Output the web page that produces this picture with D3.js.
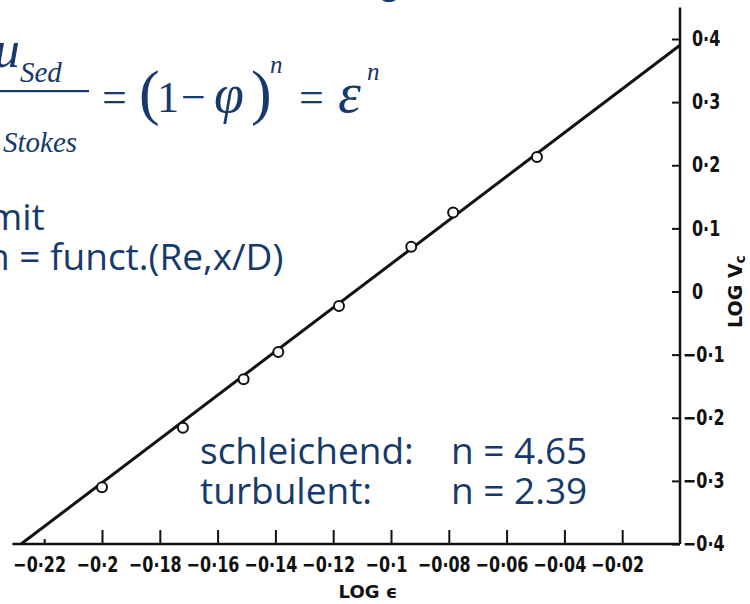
<!DOCTYPE html>
<html>
<head>
<meta charset="utf-8">
<script src="https://cdn.jsdelivr.net/npm/d3@7"></script>
<style>
  body { margin: 0; background: #fff; }
  svg { display: block; }
  .scan { font-family: "DejaVu Sans", sans-serif; font-weight: bold; fill: #111; }
  .blue { font-family: "Open Sans", "Noto Sans", sans-serif; fill: #163a6b; }
  .math { font-family: "Liberation Serif", "DejaVu Serif", serif; fill: #163a6b; }
</style>
</head>
<body>
<div id="chart"></div>
<script>
// Richardson-Zaki plot: log Vc against log eps
const WIDTH = 750;
const HEIGHT = 604;
const BLUE = "#163a6b";
const SQUEEZE = 0.76; // scanned tick labels are narrow

// axis ticks and labels (as printed, middle dot decimals)
const xTicks = [-0.22, -0.2, -0.18, -0.16, -0.14, -0.12, -0.1, -0.08, -0.06, -0.04, -0.02];
const xTickLabels = ["−0·22", "−0·2", "−0·18", "−0·16", "−0·14", "−0·12", "−0·1", "−0·08", "−0·06", "−0·04", "−0·02"];
const yTicks = [0.4, 0.3, 0.2, 0.1, 0, -0.1, -0.2, -0.3, -0.4];
const yTickLabels = ["0·4", "0·3", "0·2", "0·1", "0", "−0·1", "−0·2", "−0·3", "−0·4"];

// measured points
const logEps = [-0.2, -0.172, -0.151, -0.139, -0.118, -0.093, -0.0785, -0.0495];
const logVc = [-0.31, -0.216, -0.139, -0.096, -0.023, 0.071, 0.125, 0.213];

// fitted straight line (end points)
const fitEps = [-0.228, 0];
const fitVc = [-0.4, 0.39];

const svg = d3.select("#chart")
    .append("svg")
    .attr("width", WIDTH)
    .attr("height", HEIGHT);

const x = d3.scaleLinear().domain([-0.2, 0]).range([102, 680]);
const y = d3.scaleLinear().domain([-0.4, 0.4]).range([544, 39]);

// --- axes ---
const xAxis = svg.append("g")
    .attr("class", "scan")
    .attr("transform", `translate(0,${y(-0.4)})`)
    .call(d3.axisBottom(x)
        .tickValues(xTicks)
        .tickFormat((d, i) => xTickLabels[i])
        .tickSize(-14)
        .tickSizeOuter(0)
        .tickPadding(12));

xAxis.select(".domain").remove();
xAxis.selectAll(".tick line")
    .attr("stroke", "#111")
    .attr("stroke-width", 2)
    .attr("y2", d => d === -0.22 ? -5 : -14);
xAxis.selectAll(".tick text")
    .attr("fill", "#111")
    .attr("y", 0)
    .attr("dy", 0)
    .attr("transform", `translate(-5,28) scale(${SQUEEZE},1)`)
    .style("font-size", "21px");

const yAxis = svg.append("g")
    .attr("class", "scan")
    .attr("transform", `translate(${x(0)},0)`)
    .call(d3.axisRight(y)
        .tickValues(yTicks)
        .tickFormat((d, i) => yTickLabels[i])
        .tickSize(-8)
        .tickSizeOuter(0)
        .tickPadding(12));

yAxis.select(".domain").remove();
yAxis.selectAll(".tick line")
    .attr("stroke", "#111")
    .attr("stroke-width", 2);
yAxis.selectAll(".tick text")
    .attr("fill", "#111")
    .attr("x", 0)
    .attr("transform", d => `translate(${d < 0 ? 3 : 12},0) scale(${SQUEEZE},1)`)
    .style("font-size", "21px");

// frame lines (bottom + right)
svg.append("line")
    .attr("x1", x(-0.231)).attr("x2", x(0))
    .attr("y1", y(-0.4)).attr("y2", y(-0.4))
    .attr("stroke", "#111").attr("stroke-width", 2.5);

svg.append("line")
    .attr("x1", x(0)).attr("x2", x(0))
    .attr("y1", y(-0.4)).attr("y2", y(0.45))
    .attr("stroke", "#111").attr("stroke-width", 2.5);

// axis titles
svg.append("text")
    .attr("class", "scan")
    .attr("x", 368)
    .attr("y", 598)
    .attr("text-anchor", "middle")
    .style("font-size", "18px")
    .text("LOG ϵ");

const yTitle = svg.append("text")
    .attr("class", "scan")
    .attr("transform", `translate(742,${y(0.0)}) rotate(-90)`)
    .attr("text-anchor", "middle")
    .style("font-size", "19px");
yTitle.append("tspan").text("LOG V");
yTitle.append("tspan").attr("dy", 3).style("font-size", "14px").text("c");

// --- fit line ---
const line = d3.line()
    .x(d => x(d[0]))
    .y(d => y(d[1]));

svg.append("path")
    .datum(d3.zip(fitEps, fitVc))
    .attr("d", line)
    .attr("fill", "none")
    .attr("stroke", "#111")
    .attr("stroke-width", 3);

// --- points ---
svg.selectAll(".pt")
    .data(d3.zip(logEps, logVc))
    .enter()
    .append("circle")
    .attr("class", "pt")
    .attr("cx", d => x(d[0]))
    .attr("cy", d => y(d[1]))
    .attr("r", 5)
    .attr("fill", "#fff")
    .attr("stroke", "#111")
    .attr("stroke-width", 2);

// --- overlaid slide text ---
svg.append("text")
    .attr("class", "blue")
    .attr("x", 398).attr("y", -6)
    .attr("text-anchor", "end")
    .style("font-size", "32px")
    .text("Richardson-Zaki-Gleichung");

// formula u_Sed / u_Stokes = (1 - phi)^n = eps^n
const f = svg.append("g").attr("class", "math");

f.append("text").attr("x", -6).attr("y", 67).style("font-size", "52px").style("font-style", "italic").text("u");
f.append("text").attr("x", 20).attr("y", 82).style("font-size", "29px").style("font-style", "italic").text("Sed");
f.append("rect").attr("x", 0).attr("y", 90).attr("width", 89).attr("height", 2.2).attr("fill", BLUE);
f.append("text").attr("x", -26).attr("y", 140).style("font-size", "52px").style("font-style", "italic").text("u");
f.append("text").attr("x", 3).attr("y", 152).style("font-size", "29px").style("font-style", "italic").text("Stokes");

f.append("text").attr("x", 102).attr("y", 112).style("font-size", "44px").text("=");
f.append("text").attr("x", 139).attr("y", 113).style("font-size", "62px").text("(");
f.append("text").attr("x", 157).attr("y", 112).style("font-size", "44px").text("1");
f.append("text").attr("x", 181).attr("y", 112).style("font-size", "44px").text("−");
f.append("text").attr("x", 214).attr("y", 112).style("font-size", "54px").style("font-style", "italic").text("φ");
f.append("text").attr("x", 251).attr("y", 113).style("font-size", "62px").text(")");
f.append("text").attr("x", 270).attr("y", 73).style("font-size", "25px").style("font-style", "italic").text("n");
f.append("text").attr("x", 299).attr("y", 112).style("font-size", "44px").text("=");
f.append("text").attr("x", 338).attr("y", 112).style("font-size", "58px").style("font-style", "italic").text("ε");
f.append("text").attr("x", 367).attr("y", 80).style("font-size", "25px").style("font-style", "italic").text("n");

svg.append("text").attr("class", "blue").attr("x", -12).attr("y", 230).style("font-size", "37px").text("mit");
svg.append("text").attr("class", "blue").attr("x", -13).attr("y", 270).style("font-size", "37px").text("n = funct.(Re,x/D)");

svg.append("text").attr("class", "blue").attr("x", 200).attr("y", 464).style("font-size", "37px").text("schleichend:");
svg.append("text").attr("class", "blue").attr("x", 451).attr("y", 464).style("font-size", "37px").text("n = 4.65");
svg.append("text").attr("class", "blue").attr("x", 200).attr("y", 504).style("font-size", "37px").text("turbulent:");
svg.append("text").attr("class", "blue").attr("x", 451).attr("y", 504).style("font-size", "37px").text("n = 2.39");
</script>
</body>
</html>
